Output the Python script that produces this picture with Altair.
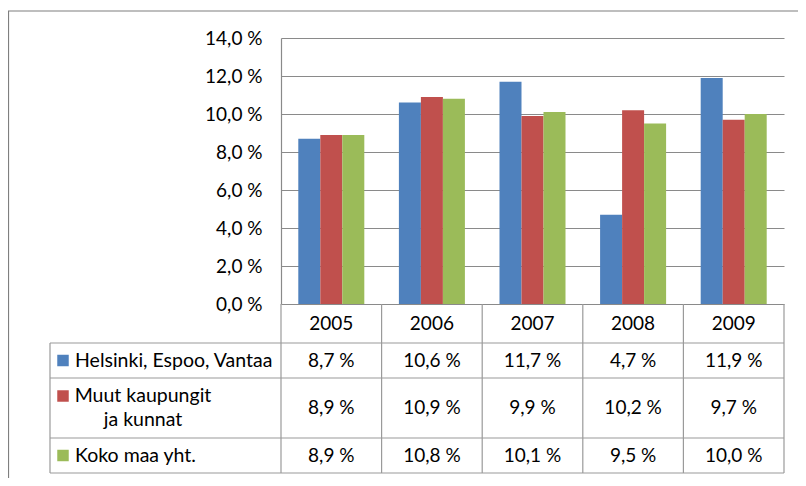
import altair as alt
import pandas as pd

# ---------------- data ----------------
YEARS = ["2005", "2006", "2007", "2008", "2009"]
SERIES = ["Helsinki, Espoo, Vantaa", "Muut kaupungit ja kunnat", "Koko maa yht."]
SERIES_LINES = [["Helsinki, Espoo, Vantaa"], ["Muut kaupungit", "ja kunnat"], ["Koko maa yht."]]
HELSINKI = [8.7, 10.6, 11.7, 4.7, 11.9]
MUUT = [8.9, 10.9, 9.9, 10.2, 9.7]
KOKO = [8.9, 10.8, 10.1, 9.5, 10.0]
Y_TICKS = [0, 2, 4, 6, 8, 10, 12, 14]
COLORS = ["#4F81BD", "#C0504D", "#9BBB59"]

# ---------------- layout ----------------
W, H = 503, 266
PAD_L, PAD_T = 273, 30
TOTAL_W, TOTAL_H = 790, 470
HEADER_H = 39
ROW_H = [35, 60, 35]
TABLE_H = HEADER_H + sum(ROW_H)
TABLE_LEFT = -231
LABEL_X = -206
LABEL_CX = -138
SQ_X = -218
LINE_H = 24
FONT = "Lato"
FS = 19
FS_LEG = 19.5
GRID = "#8a8a8a"
LINE = "#9a9a9a"


def pct(v):
    return f"{v:.1f}".replace(".", ",") + " %"


values = [HELSINKI, MUUT, KOKO]
row_top = [HEADER_H]
for h in ROW_H[:-1]:
    row_top.append(row_top[-1] + h)
row_center = [t + h / 2 for t, h in zip(row_top, ROW_H)]
row_bounds = [HEADER_H] + [t + h for t, h in zip(row_top, ROW_H)]

bars = pd.DataFrame([
    {"year": y, "series": s, "value": v[i], "label": pct(v[i]), "yc": row_center[k]}
    for k, (s, v) in enumerate(zip(SERIES, values))
    for i, y in enumerate(YEARS)
])

legend = pd.DataFrame([
    {
        "series": s,
        "lines": lines,
        "yfirst": row_center[k] - (len(lines) - 1) * LINE_H / 2,
        "multi": len(lines) > 1,
    }
    for k, (s, lines) in enumerate(zip(SERIES, SERIES_LINES))
])

header = pd.DataFrame({"year": YEARS, "yc": [HEADER_H / 2] * len(YEARS)})
vlines = pd.DataFrame({"year": YEARS, "y0": [0] * len(YEARS), "y1": [TABLE_H] * len(YEARS)})
hlines = pd.DataFrame({"y": row_bounds})
one = pd.DataFrame({"a": [0]})
left_border = pd.DataFrame({"y0": [HEADER_H], "y1": [TABLE_H]})

# ---------------- scales ----------------
x_scale = alt.Scale(domain=YEARS, paddingInner=0, paddingOuter=0)
ty = alt.Scale(domain=[0, TABLE_H], range=[H, H + TABLE_H])
color = alt.Color("series:N", scale=alt.Scale(domain=SERIES, range=COLORS), legend=None)
X = lambda **kw: alt.X("year:O", scale=x_scale, axis=None, **kw)

bar_layer = alt.Chart(bars).mark_bar().encode(
    x=X(),
    xOffset=alt.XOffset("series:N", sort=SERIES,
                        scale=alt.Scale(paddingOuter=0.786, paddingInner=0)),
    y=alt.Y("value:Q", scale=alt.Scale(domain=[0, 14], nice=False),
            axis=alt.Axis(values=Y_TICKS, title=None, ticks=False, grid=True,
                          gridColor=GRID, gridWidth=1.2, domainColor=GRID, domainWidth=1.2,
                          labelFont=FONT, labelFontSize=FS, labelColor="black",
                          labelPadding=19,
                          labelExpr="replace(format(datum.value, '.1f'), '.', ',') + ' %'")),
    color=color,
)

header_layer = alt.Chart(header).mark_text(font=FONT, fontSize=FS, color="black").encode(
    x=X(), y=alt.Y("yc:Q", scale=ty, axis=None), text="year:N"
)

cell_layer = alt.Chart(bars).mark_text(font=FONT, fontSize=FS, color="black").encode(
    x=X(), y=alt.Y("yc:Q", scale=ty, axis=None), text="label:N"
)

vline_layer = alt.Chart(vlines).mark_rule(color=LINE, strokeWidth=1.2).encode(
    x=X(bandPosition=0), y=alt.Y("y0:Q", scale=ty, axis=None), y2="y1:Q"
)
right_border = alt.Chart(vlines.head(1)).mark_rule(color=LINE, strokeWidth=1.2).encode(
    x=alt.value(W), y=alt.Y("y0:Q", scale=ty, axis=None), y2="y1:Q"
)
left_layer = alt.Chart(left_border).mark_rule(color=LINE, strokeWidth=1.2).encode(
    x=alt.value(TABLE_LEFT), y=alt.Y("y0:Q", scale=ty, axis=None), y2="y1:Q"
)
hline_layer = alt.Chart(hlines).mark_rule(color=LINE, strokeWidth=1.2).encode(
    x=alt.value(TABLE_LEFT), x2=alt.value(W), y=alt.Y("y:Q", scale=ty, axis=None)
)

sq_layer = alt.Chart(legend).mark_square(size=132, opacity=1).encode(
    x=alt.value(SQ_X), y=alt.Y("yfirst:Q", scale=ty, axis=None), color=color
)
label_left = alt.Chart(legend).transform_filter("!datum.multi").mark_text(
    font=FONT, fontSize=FS_LEG, color="black", align="left", lineHeight=LINE_H
).encode(x=alt.value(LABEL_X), y=alt.Y("yfirst:Q", scale=ty, axis=None), text="lines")
label_center = alt.Chart(legend).transform_filter("datum.multi").mark_text(
    font=FONT, fontSize=FS_LEG, color="black", align="center", lineHeight=LINE_H
).encode(x=alt.value(LABEL_CX), y=alt.Y("yfirst:Q", scale=ty, axis=None), text="lines")

frame_top = alt.Chart(one).mark_rule(color="#7f7f7f", strokeWidth=1.2).encode(
    x=alt.value(-PAD_L), x2=alt.value(TOTAL_W - PAD_L), y=alt.value(-27)
)
frame_left = alt.Chart(one).mark_rule(color="#7f7f7f", strokeWidth=1.2).encode(
    x=alt.value(-PAD_L + 0.5), y=alt.value(-27), y2=alt.value(TOTAL_H - PAD_T)
)

chart = alt.layer(
    bar_layer, header_layer, cell_layer, vline_layer, right_border, left_layer,
    hline_layer, sq_layer, label_left, label_center, frame_top, frame_left
).resolve_scale(y="independent").properties(
    width=W, height=H,
    autosize=alt.AutoSizeParams(type="none"),
    padding={"left": PAD_L, "top": PAD_T, "right": TOTAL_W - PAD_L - W,
             "bottom": TOTAL_H - PAD_T - H},
    background="white",
).configure_view(stroke=None)

chart.save("out.html", embed_options={"renderer": "svg", "actions": False})
